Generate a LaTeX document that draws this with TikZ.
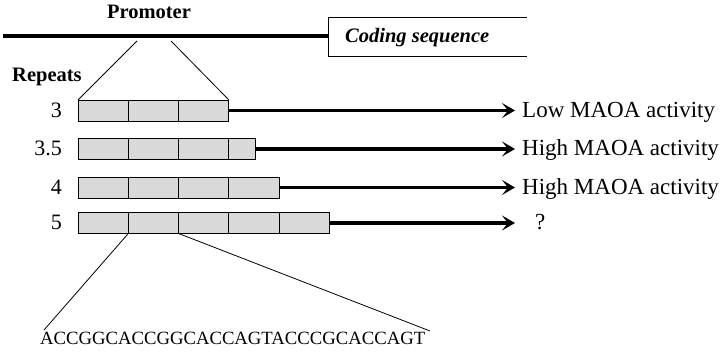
\documentclass[tikz,border=0pt]{standalone}
\usepackage{fontspec}
\setmainfont{Liberation Serif}
\usetikzlibrary{arrows.meta}
\begin{document}
\begin{tikzpicture}[x=1pt,y=-1pt,
  cell/.style={draw=black,line width=0.9pt,fill=black!15,rectangle,minimum width=50.3pt,minimum height=21pt,inner sep=0pt,outer sep=0pt,anchor=west},
  halfcell/.style={cell,minimum width=26.5pt},
  boldlab/.style={font=\fontsize{20.5}{24}\selectfont\bfseries,inner sep=0pt,anchor=base},
  numlab/.style={font=\fontsize{22}{25}\selectfont,inner sep=0pt,anchor=base east},
  outlab/.style={font=\fontsize{23}{27}\selectfont,inner sep=0pt,anchor=base west},
  arr/.style={line width=3.2pt,-{Stealth[length=13pt,width=15pt,inset=6pt]}},
  thin/.style={line width=0.8pt}]
\useasboundingbox (0,0) rectangle (721,352);
% top DNA line and coding box
\coordinate (tl) at (3,36);
\coordinate (cbl) at (328,36);
\draw[line width=3.6pt] (tl) -- (cbl);
\draw[line width=1pt] (527,18) -- (328,18) -- (328,57) -- (527,57);
\node[boldlab,font=\fontsize{20.5}{24}\selectfont\bfseries\itshape,anchor=base west] (cod) at (345,43) {Coding sequence};
\node[boldlab] (prom) at (149,19) {Promoter};
\node[boldlab,anchor=base west] (rep) at (12,82) {Repeats};
% row 3
\node[cell] (a1) at (78,110.5) {};
\node[cell] (a2) at (a1.east) {};
\node[cell] (a3) at (a2.east) {};
% row 3.5
\node[cell] (b1) at (78,149) {};
\node[cell] (b2) at (b1.east) {};
\node[cell] (b3) at (b2.east) {};
\node[halfcell] (b4) at (b3.east) {};
% row 4
\node[cell] (c1) at (78,187.5) {};
\node[cell] (c2) at (c1.east) {};
\node[cell] (c3) at (c2.east) {};
\node[cell] (c4) at (c3.east) {};
% row 5
\node[cell] (d1) at (78,223) {};
\node[cell] (d2) at (d1.east) {};
\node[cell] (d3) at (d2.east) {};
\node[cell] (d4) at (d3.east) {};
\node[cell] (d5) at (d4.east) {};
% numeric labels
\node[numlab] (na) at (62,117.5) {3};
\node[numlab] (nb) at (62,156) {3.5};
\node[numlab] (nc) at (62,194.5) {4};
\node[numlab] (nd) at (62,230) {5};
% arrows
\coordinate (ea) at (515,110.5);
\coordinate (eb) at (515,149);
\coordinate (ec) at (515,187.5);
\coordinate (ed) at (515,223);
\draw[arr] (a3.east) -- (ea);
\draw[arr] (b4.east) -- (eb);
\draw[arr] (c4.east) -- (ec);
\draw[arr] (d5.east) -- (ed);
\node[outlab] (la) at (522,117.5) {Low MAOA activity};
\node[outlab] (lb) at (522,156) {High MAOA activity};
\node[outlab] (lc) at (522,194.5) {High MAOA activity};
\node[outlab] (ld) at (535,230) {?};
% promoter zoom lines
\coordinate (pl) at (137,41);
\coordinate (pr) at (171,41);
\draw[thin] (pl) -- (a1.north west);
\draw[thin] (pr) -- (a3.north east);
% sequence
\node[font=\fontsize{18.7}{22}\selectfont,inner sep=0pt,anchor=base west] (seq) at (40,345) {ACCGGCACCGGCACCAGTACCCGCACCAGT};
\coordinate (sl) at (44,330);
\coordinate (sr) at (430,331);
\draw[thin] (d2.south west) -- (sl);
\draw[thin] (d3.south west) -- (sr);
\end{tikzpicture}
\end{document}
